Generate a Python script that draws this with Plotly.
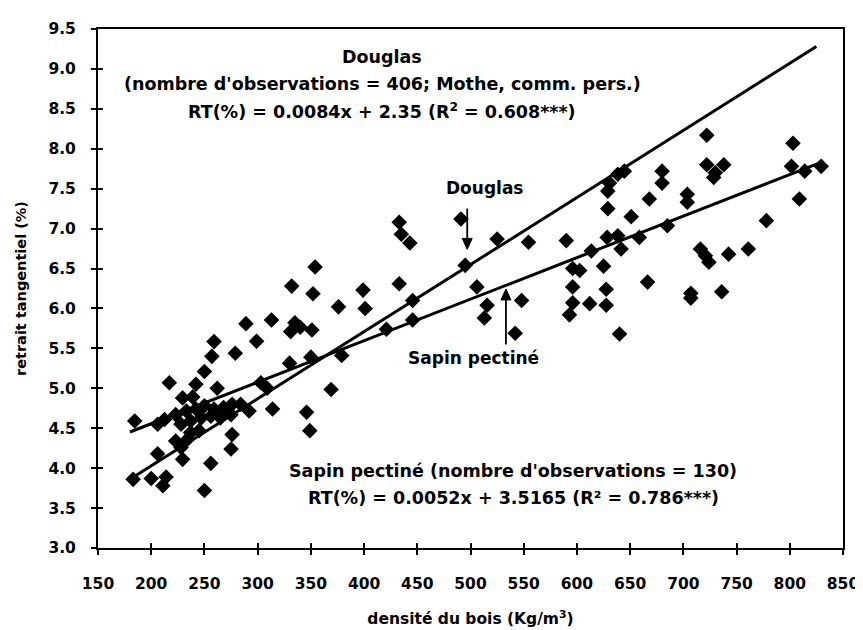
import plotly.graph_objects as go

# --- data ---
densite = [217, 242, 250, 262, 229.5, 239, 303, 184.5, 206, 212.5, 223, 233, 242, 250, 259, 268, 276, 284, 292,
           228, 237, 247, 256, 265, 275, 237, 245, 276, 275, 223, 228, 229.5, 206, 256, 183, 200, 214, 211, 250,
           259, 257, 279, 289, 299, 234,
           354, 332, 352, 399, 433, 376, 401, 313, 335, 340, 331, 351, 445.6, 445.6, 421, 379, 350, 330, 309, 369,
           314, 346, 349,
           433, 435, 443, 491, 525, 554.5, 590, 495, 613.5, 596, 602.6, 596, 506, 515.6, 513, 548, 542, 596, 612,
           593, 625, 627.5, 627.5, 640, 628.4, 638.4, 641.5, 651, 629, 630.6, 638.4, 644.5, 629, 658.6, 666.4, 668,
           680, 680, 685, 703.7, 703.7, 707, 707, 716, 720.7, 724, 722, 722, 738, 730, 728.5, 736, 742.5, 761, 778,
           803, 801.6, 814, 829.5, 809]
retrait = [5.07, 5.05, 5.21, 5.00, 4.88, 4.89, 5.07, 4.59, 4.55, 4.61, 4.67, 4.715, 4.74, 4.78, 4.74, 4.76, 4.80, 4.80, 4.715,
           4.55, 4.59, 4.63, 4.65, 4.63, 4.67, 4.445, 4.47, 4.42, 4.24, 4.34, 4.26, 4.11, 4.18, 4.06, 3.86, 3.87, 3.89, 3.78, 3.72,
           5.585, 5.40, 5.44, 5.81, 5.59, 4.36,
           6.52, 6.28, 6.185, 6.23, 6.31, 6.02, 6.00, 5.855, 5.82, 5.765, 5.71, 5.73, 6.10, 5.855, 5.74, 5.41, 5.39, 5.315, 5.00, 4.985,
           4.74, 4.70, 4.47,
           7.08, 6.93, 6.82, 7.12, 6.87, 6.83, 6.85, 6.54, 6.72, 6.50, 6.475, 6.27, 6.27, 6.04, 5.88, 6.10, 5.69, 6.07, 6.06,
           5.92, 6.53, 6.24, 6.04, 5.68, 6.89, 6.91, 6.745, 7.15, 7.25, 7.57, 7.68, 7.72, 7.47, 6.89, 6.33, 7.37,
           7.72, 7.57, 7.035, 7.43, 7.33, 6.19, 6.13, 6.745, 6.66, 6.58, 8.17, 7.80, 7.80, 7.70, 7.64, 6.21, 6.68, 6.745, 7.10,
           8.07, 7.78, 7.72, 7.78, 7.37]

douglas_coef = (0.0084, 2.35)
douglas_xrange = [180, 825]
sapin_coef = (0.0052, 3.5165)
sapin_xrange = [180, 830]

x_ticks = list(range(150, 851, 50))
y_ticks = [3.0, 3.5, 4.0, 4.5, 5.0, 5.5, 6.0, 6.5, 7.0, 7.5, 8.0, 8.5, 9.0, 9.5]

FONT = "DejaVu Sans"

fig = go.Figure()
fig.add_trace(go.Scatter(x=densite, y=retrait, mode="markers",
                         marker=dict(symbol="diamond", size=12, color="black"),
                         showlegend=False, hoverinfo="skip"))
for coef, xr in [(douglas_coef, douglas_xrange), (sapin_coef, sapin_xrange)]:
    fig.add_trace(go.Scatter(x=xr, y=[coef[0] * v + coef[1] for v in xr], mode="lines",
                             line=dict(color="black", width=3), showlegend=False, hoverinfo="skip"))
# invisible trace for overlay axes (crossing ticks)
fig.add_trace(go.Scatter(x=[150], y=[3], xaxis="x2", yaxis="y2", mode="markers",
                         marker=dict(opacity=0), showlegend=False, hoverinfo="skip"))

tickfont = dict(family=FONT, size=15.5, color="black")
axis_common = dict(showgrid=False, zeroline=False, linecolor="black", linewidth=2,
                   ticks="outside", ticklen=5, tickwidth=1.5, tickcolor="black")

fig.update_layout(
    width=863, height=630,
    margin=dict(l=85, r=28, t=17, b=90),
    paper_bgcolor="white", plot_bgcolor="white",
    font=dict(family=FONT, color="black"),
    xaxis=dict(range=[150, 850], tickvals=x_ticks, ticktext=[f"<b>{v}</b>" for v in x_ticks],
               tickfont=tickfont, mirror=True, ticklabelstandoff=15,
               title=dict(text="<b>densité du bois (Kg/m<sup>3</sup>)</b>", font=dict(family=FONT, size=15.5), standoff=22),
               **axis_common),
    yaxis=dict(range=[3, 9.5], tickvals=y_ticks, ticktext=[f"<b>{v:.1f}</b>" for v in y_ticks],
               tickfont=tickfont, mirror=True, ticklabelstandoff=12,
               title=dict(text="<b>retrait tangentiel (%)</b>", font=dict(family=FONT, size=14.5), standoff=18),
               **axis_common),
    xaxis2=dict(range=[150, 850], overlaying="x", anchor="y", tickvals=x_ticks, showticklabels=False,
                showgrid=False, zeroline=False, showline=False, ticks="inside", ticklen=5, tickwidth=1.5,
                tickcolor="black"),
    yaxis2=dict(range=[3, 9.5], overlaying="y", anchor="x", tickvals=y_ticks, showticklabels=False,
                showgrid=False, zeroline=False, showline=False, ticks="inside", ticklen=5, tickwidth=1.5,
                tickcolor="black"),
)

# plot area in screen pixels: x 93..843, y 25..548
ann_font = dict(family=FONT, size=17.5, color="black")
annotations = [
    ("<b>Douglas</b>", 379, 53),
    ("<b>(nombre d'observations = 406; Mothe, comm. pers.)</b>", 379, 80),
    ("<b>RT(%) = 0.0084x + 2.35 (R<sup>2</sup> = 0.608***)</b>", 379, 108),
    ("<b>Sapin pectiné (nombre d'observations = 130)</b>", 511, 470),
    ("<b>RT(%) = 0.0052x + 3.5165 (R² = 0.786***)</b>", 511, 498),
]
for text, px, py in annotations:
    fig.add_annotation(text=text, xref="paper", yref="paper",
                       x=(px - 93) / 750, y=(548 - py) / 523,
                       showarrow=False, font=ann_font, xanchor="center", yanchor="middle")


def to_x(px):
    return 150 + (px - 93) / 1.0723


def to_y(py):
    return 3 + (548 - py) / 80.46


# inner labels
fig.add_annotation(text="<b>Douglas</b>", x=to_x(482), y=to_y(185), xref="x", yref="y",
                   showarrow=False, font=dict(family=FONT, size=17, color="black"))
fig.add_annotation(text="<b>Sapin pectiné</b>", x=to_x(471), y=to_y(357), xref="x", yref="y",
                   showarrow=False, font=dict(family=FONT, size=17, color="black"))


def arrow(px, py_from, py_tip):
    direction = 1 if py_tip > py_from else -1
    base = py_tip - direction * 11
    fig.add_shape(type="line", x0=to_x(px), x1=to_x(px), y0=to_y(py_from), y1=to_y(base),
                  xref="x", yref="y", line=dict(color="black", width=1.8))
    path = (f"M {to_x(px - 5)},{to_y(base)} L {to_x(px + 5)},{to_y(base)} "
            f"L {to_x(px)},{to_y(py_tip)} Z")
    fig.add_shape(type="path", path=path, xref="x", yref="y",
                  fillcolor="black", line=dict(color="black", width=1))


arrow(465, 206, 247)
arrow(504, 343, 287)

fig.write_html("out.html")
